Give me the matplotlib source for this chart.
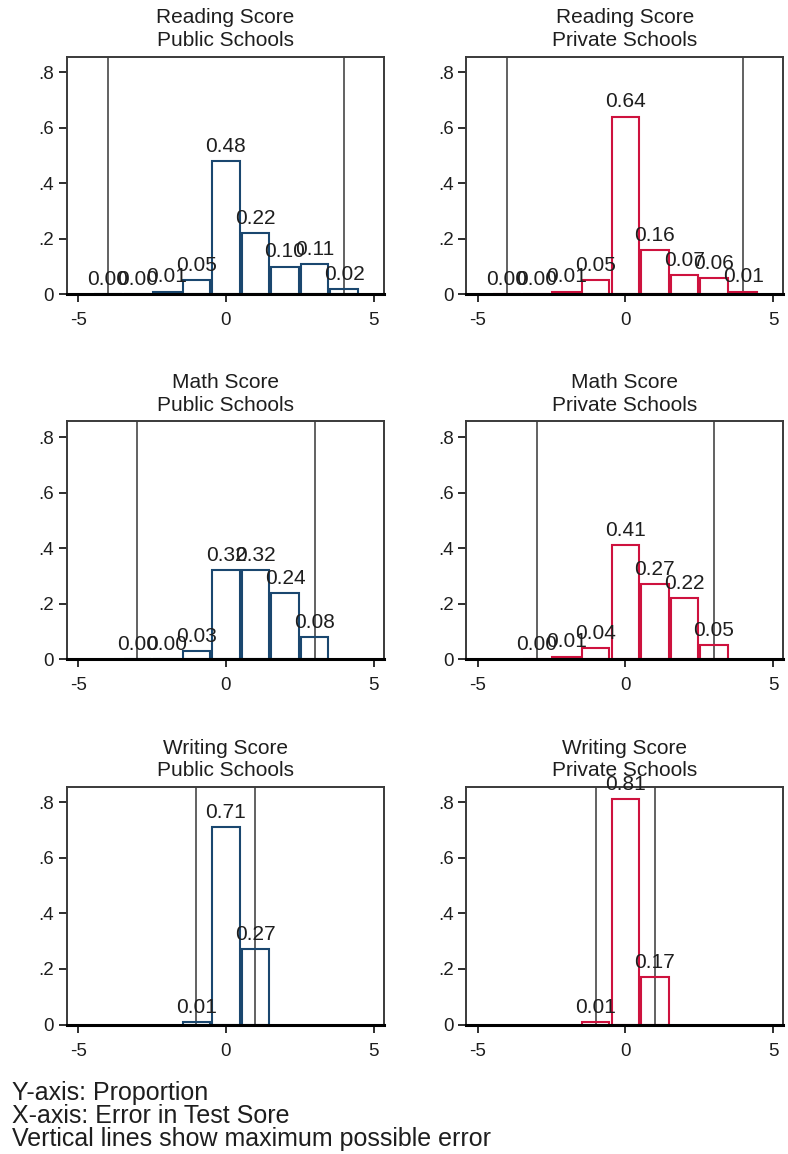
import matplotlib
matplotlib.use("Agg")
import matplotlib.pyplot as plt

plt.rcParams['font.family'] = ['Liberation Sans', 'DejaVu Sans']

# ---- data ----
subjects = ["Reading Score", "Math Score", "Writing Score"]
schools = ["Public Schools", "Private Schools"]

reading_bins = [-4, -3, -2, -1, 0, 1, 2, 3, 4]
reading_public = [0.00, 0.00, 0.01, 0.05, 0.48, 0.22, 0.10, 0.11, 0.02]
reading_private = [0.00, 0.00, 0.01, 0.05, 0.64, 0.16, 0.07, 0.06, 0.01]
reading_maxerr = 4

math_bins = [-3, -2, -1, 0, 1, 2, 3]
math_public = [0.00, 0.00, 0.03, 0.32, 0.32, 0.24, 0.08]
math_private = [0.00, 0.01, 0.04, 0.41, 0.27, 0.22, 0.05]
math_maxerr = 3

writing_bins = [-1, 0, 1]
writing_public = [0.01, 0.71, 0.27]
writing_private = [0.01, 0.81, 0.17]
writing_maxerr = 1

yticks = [0, 0.2, 0.4, 0.6, 0.8]
yticklabels = ["0", ".2", ".4", ".6", ".8"]
xticks = [-5, 0, 5]
xticklabels = ["-5", "0", "5"]

notes = "Y-axis: Proportion\nX-axis: Error in Test Sore\nVertical lines show maximum possible error"

NAVY = "#1a476f"
RED = "#ce123e"

panels = [
    (reading_bins, reading_public, reading_private, reading_maxerr),
    (math_bins, math_public, math_private, math_maxerr),
    (writing_bins, writing_public, writing_private, writing_maxerr),
]

W, H = 788, 1154
fig = plt.figure(figsize=(W / 100, H / 100), dpi=100)

col_left = [66.7, 466.0]
ax_w = 317.3
row_top = [56.5, 421.5, 786.7]
ax_h = 237.8

for r, (bins, pub, priv, me) in enumerate(panels):
    for c, (vals, color) in enumerate([(pub, NAVY), (priv, RED)]):
        ax = fig.add_axes([col_left[c] / W, 1 - (row_top[r] + ax_h) / H, ax_w / W, ax_h / H])
        ax.axvline(-me, color="#555555", lw=1.3, zorder=1)
        ax.axvline(me, color="#555555", lw=1.3, zorder=1)
        ax.bar(bins, vals, width=0.93, fill=False, edgecolor=color, linewidth=1.5, zorder=2)
        for x, v in zip(bins, vals):
            ax.annotate(f"{v:.2f}", (x, v), xytext=(0, 6.5), textcoords="offset points",
                        ha="center", va="baseline", fontsize=15, color="#1e1e1e",
                        annotation_clip=False, zorder=3)
        ax.set_xlim(-5.39, 5.35)
        ax.set_ylim(0, 0.856)
        ax.set_xticks(xticks)
        ax.set_xticklabels(xticklabels)
        ax.set_yticks(yticks)
        ax.set_yticklabels(yticklabels)
        ax.tick_params(direction="out", length=6, width=1.3, labelsize=13.5, colors="#1e1e1e")
        ax.tick_params(axis="x", pad=7)
        ax.tick_params(axis="y", pad=3)
        for s in ["left", "top", "right"]:
            ax.spines[s].set_color("#3a3a3a")
            ax.spines[s].set_linewidth(1.4)
        ax.spines["bottom"].set_color("black")
        ax.spines["bottom"].set_linewidth(2.2)
        ax.set_title(subjects[r] + "\n" + schools[c], fontsize=15, pad=7.5,
                     linespacing=1.25, color="#1e1e1e")

fig.text(11.7 / W, 1 - 1146 / H, notes, fontsize=18, ha="left", va="baseline",
         linespacing=0.96, color="#1e1e1e")

fig.savefig("out.png", dpi=100)
